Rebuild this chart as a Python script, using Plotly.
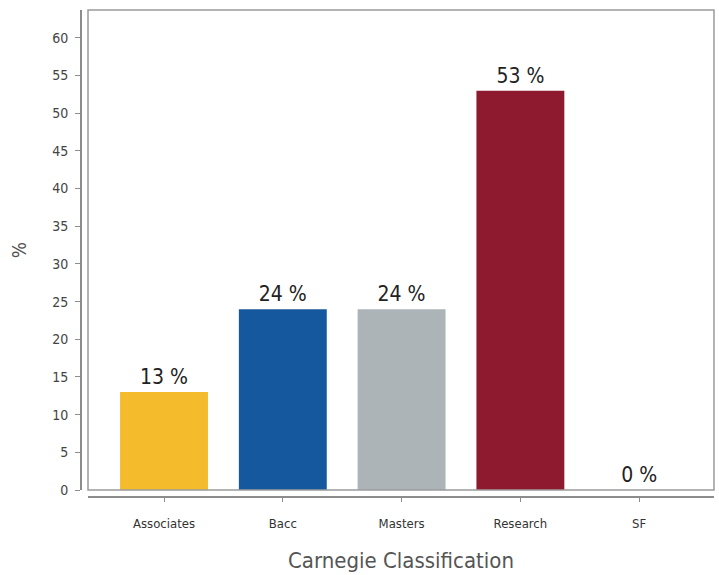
import plotly.graph_objects as go

# Share of institutions by Carnegie classification
categories = ["Associates", "Bacc", "Masters", "Research", "SF"]
percentages = [13, 24, 24, 53, 0]
bar_colors = ["#F4BB2D", "#16589E", "#ADB4B8", "#8D1A2E", "#FFFFFF"]
y_ticks = list(range(0, 61, 5))

W, H = 719, 575
ml, mr, mt, mb = 81, 5, 10, 78
plot_w = W - ml - mr
plot_h = H - mt - mb
gap = 7  # offset of the axis lines from the framed plot area

FONT = "DejaVu Sans Condensed, DejaVu Sans"

fig = go.Figure(
    go.Bar(
        x=categories,
        y=percentages,
        marker=dict(color=bar_colors, line=dict(width=0)),
        width=0.74,
        text=[f"{v} %" for v in percentages],
        textposition="outside",
        textfont=dict(family=FONT, size=21, color="#222222"),
        cliponaxis=False,
        hoverinfo="skip",
    )
)

fig.update_layout(
    width=W,
    height=H,
    margin=dict(l=ml, r=mr, t=mt, b=mb),
    paper_bgcolor="white",
    plot_bgcolor="white",
    showlegend=False,
    font=dict(family=FONT, color="#444444"),
    xaxis=dict(
        domain=[gap / plot_w, 1],
        range=[-0.64, 4.63],
        anchor="free",
        position=0,
        showline=True,
        linecolor="#8c8c8c",
        linewidth=2,
        ticks="outside",
        ticklen=4,
        tickcolor="#8c8c8c",
        tickfont=dict(size=13, color="#333333"),
        ticklabelstandoff=10,
        showgrid=False,
        zeroline=False,
        title=dict(
            text="Carnegie Classification",
            font=dict(family=FONT, size=22, color="#555555"),
            standoff=22,
        ),
    ),
    yaxis=dict(
        domain=[gap / plot_h, 1],
        range=[0, 63.7],
        anchor="free",
        position=0,
        tickvals=y_ticks,
        showline=True,
        linecolor="#8c8c8c",
        linewidth=2,
        ticks="outside",
        ticklen=5,
        tickcolor="#8c8c8c",
        tickfont=dict(size=14, color="#444444"),
        ticklabelstandoff=4,
        showgrid=False,
        zeroline=False,
        title=dict(
            text="%",
            font=dict(size=19, color="#555555"),
            standoff=20,
        ),
    ),
    shapes=[
        dict(
            type="rect",
            xref="x domain",
            yref="y domain",
            x0=0,
            x1=1,
            y0=0,
            y1=1,
            line=dict(color="#9a9a9a", width=1.5),
            layer="above",
        )
    ],
)

fig.write_html("out.html")
